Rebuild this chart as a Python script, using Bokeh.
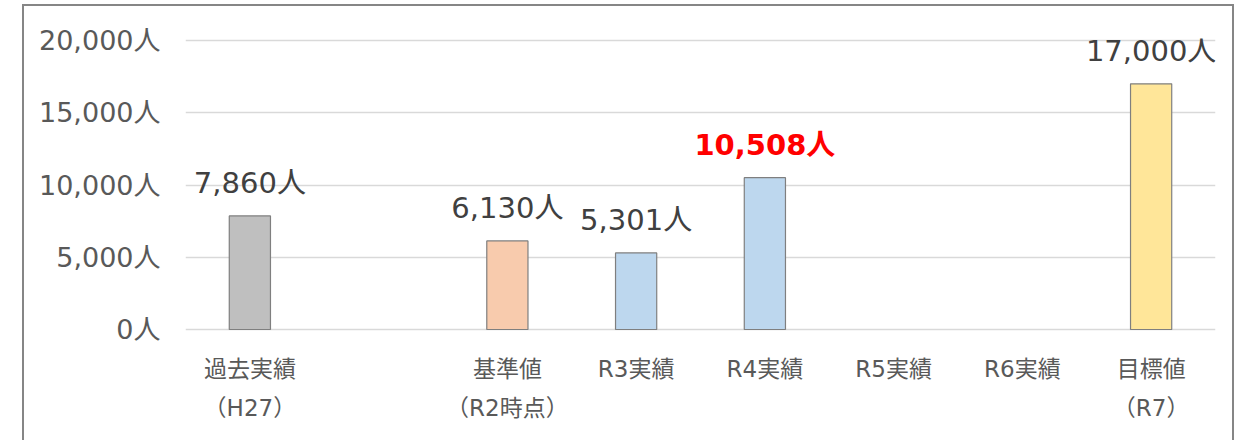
from bokeh.plotting import figure
from bokeh.models import Range1d, LinearAxis, FixedTicker, ColumnDataSource, Grid
from bokeh.embed import file_html
from bokeh.resources import INLINE
from bokeh.core.properties import value

# ---- data ----
categories = ["過去実績", "", "基準値", "R3実績", "R4実績", "R5実績", "R6実績", "目標値"]
categories_line2 = ["（H27）", "", "（R2時点）", "", "", "", "", "（R7）"]
values = [7860, None, 6130, 5301, 10508, None, None, 17000]
bar_colors = ["#bfbfbf", None, "#f8cbad", "#bdd7ee", "#bdd7ee", "#bdd7ee", "#bdd7ee", "#ffe699"]
highlight = [False, False, False, False, True, False, False, False]
y_ticks = [0, 5000, 10000, 15000, 20000]
y_tick_labels = ["0人", "5,000人", "10,000人", "15,000人", "20,000人"]

FONT = "DejaVu Sans, Noto Sans CJK JP"

idx = [i for i, v in enumerate(values) if v is not None]
src = ColumnDataSource(dict(
    x=idx,
    top=[values[i] for i in idx],
    color=[bar_colors[i] for i in idx],
    label=[f"{values[i]:,}人" for i in idx],
    tcolor=["#ff0000" if highlight[i] else "#404040" for i in idx],
    tstyle=["bold" if highlight[i] else "normal" for i in idx],
))

p = figure(width=1212, height=436,
           x_range=Range1d(-0.5, 7.5), y_range=Range1d(-138, 20138),
           output_backend="svg", toolbar_location=None,
           x_axis_location=None, y_axis_location=None,
           min_border_left=161, min_border_right=21,
           min_border_top=32, min_border_bottom=111)
p.outline_line_color = None
p.margin = (4, 0, 0, 22)
p.styles = {"border": "2px solid #868686", "border-bottom": "none"}
p.background_fill_color = "white"
p.border_fill_color = "white"

# remove default grids
p.center = [r for r in p.center if not isinstance(r, Grid)]

grid = Grid(dimension=1, ticker=FixedTicker(ticks=y_ticks),
            grid_line_color="#d9d9d9", grid_line_width=1.5)
p.add_layout(grid)

yaxis = LinearAxis(ticker=FixedTicker(ticks=y_ticks),
                   major_label_overrides=dict(zip(y_ticks, y_tick_labels)))
yaxis.axis_line_color = None
yaxis.major_tick_line_color = None
yaxis.minor_tick_line_color = None
yaxis.major_tick_out = 0
yaxis.major_tick_in = 0
yaxis.major_label_standoff = 25
yaxis.major_label_text_font = FONT
yaxis.major_label_text_font_size = "27px"
yaxis.major_label_text_color = "#595959"
p.add_layout(yaxis, "left")

xticks = list(range(len(categories)))
for labels, standoff in ((categories, 24), (categories_line2, 10)):
    ax = LinearAxis(ticker=FixedTicker(ticks=xticks),
                    major_label_overrides={i: (lab if lab else " ") for i, lab in enumerate(labels)})
    ax.axis_line_color = None
    ax.major_tick_line_color = None
    ax.minor_tick_line_color = None
    ax.major_tick_out = 0
    ax.major_tick_in = 0
    ax.major_label_standoff = standoff
    ax.major_label_text_font = FONT
    ax.major_label_text_font_size = "23px"
    ax.major_label_text_color = "#595959"
    p.add_layout(ax, "below")

p.vbar(x="x", top="top", width=0.32, source=src,
       fill_color="color", line_color="#7f7f7f", line_width=1.2)

p.text(x="x", y="top", text="label", source=src,
       text_align="center", text_baseline="middle", y_offset=-33,
       text_font=value(FONT), text_font_size="29px",
       text_color="tcolor", text_font_style="tstyle")

open("out.html", "w").write(file_html(p, INLINE))
